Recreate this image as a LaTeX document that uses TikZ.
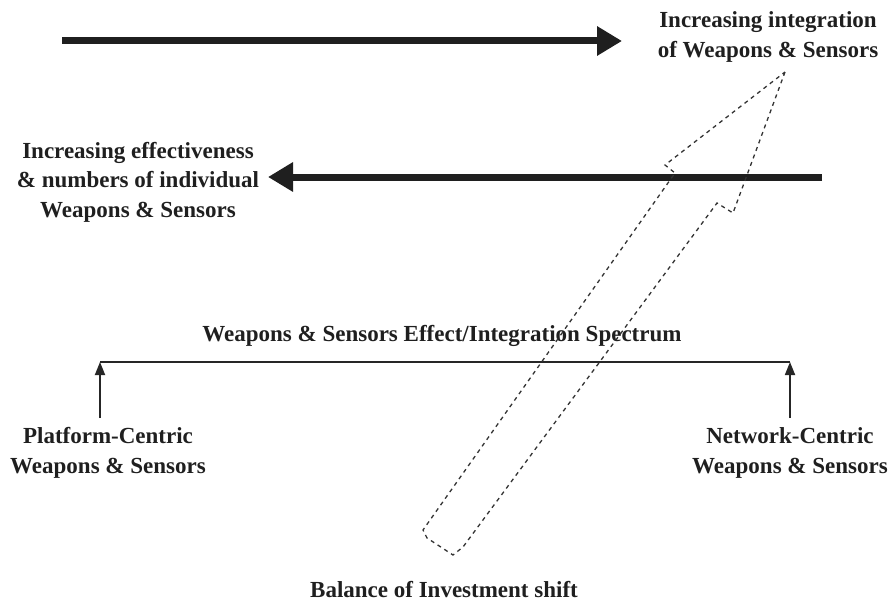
\documentclass[tikz,border=0pt]{standalone}
\usepackage{fontspec}
\setmainfont{Liberation Serif}
\usetikzlibrary{arrows.meta}
\begin{document}
\begin{tikzpicture}[x=1pt,y=-1pt,
  lbl/.style={font=\fontsize{23}{29.5}\selectfont\bfseries, align=center, inner sep=0pt, text=black!88},
  thickarrow/.style={line width=7pt, draw=black!88, -{Triangle[length=25pt,width=28pt]}},
  thinline/.style={line width=1.8pt, draw=black!85},
  thinarrow/.style={thinline, -{Triangle[length=13pt,width=10pt]}},
  dashline/.style={draw=black!80, line width=1.3pt, dash pattern=on 4pt off 4pt}]
\useasboundingbox (0,0) rectangle (893,610);
% texts
\node[lbl] (integ) at (768,37) {Increasing integration\\of Weapons \& Sensors};
\node[lbl] (effect) at (138,182) {Increasing effectiveness\\\& numbers of individual\\Weapons \& Sensors};
\node[lbl] (spectrum) at (442,336) {Weapons \& Sensors Effect/Integration Spectrum};
\node[lbl] (platform) at (108,453) {Platform-Centric\\Weapons \& Sensors};
\node[lbl] (network) at (790,453) {Network-Centric\\Weapons \& Sensors};
\node[lbl] (balance) at (444,590) {Balance of Investment shift};
% thick arrows
\coordinate (t1) at (62,41);
\coordinate (t2) at (622,41);
\draw[thickarrow] (t1) -- (t2);
\coordinate (m1) at (822,177);
\coordinate (m2) at (268,177);
\draw[thickarrow] (m1) -- (m2);
% spectrum
\coordinate (sL) at (100,362);
\coordinate (sR) at (790,362);
\coordinate (pB) at (100,418);
\coordinate (nB) at (790,418);
\draw[thinline] (sL) -- (sR);
\draw[thinarrow] (pB) -- (sL);
\draw[thinarrow] (nB) -- (sR);
% hollow dashed arrow
\draw[dashline] (785,72) -- (733,213) -- (717,203) -- (463,547) -- (453,555) -- (427,538) -- (423,530) -- (675,173) -- (665,165) -- cycle;
\end{tikzpicture}
\end{document}
